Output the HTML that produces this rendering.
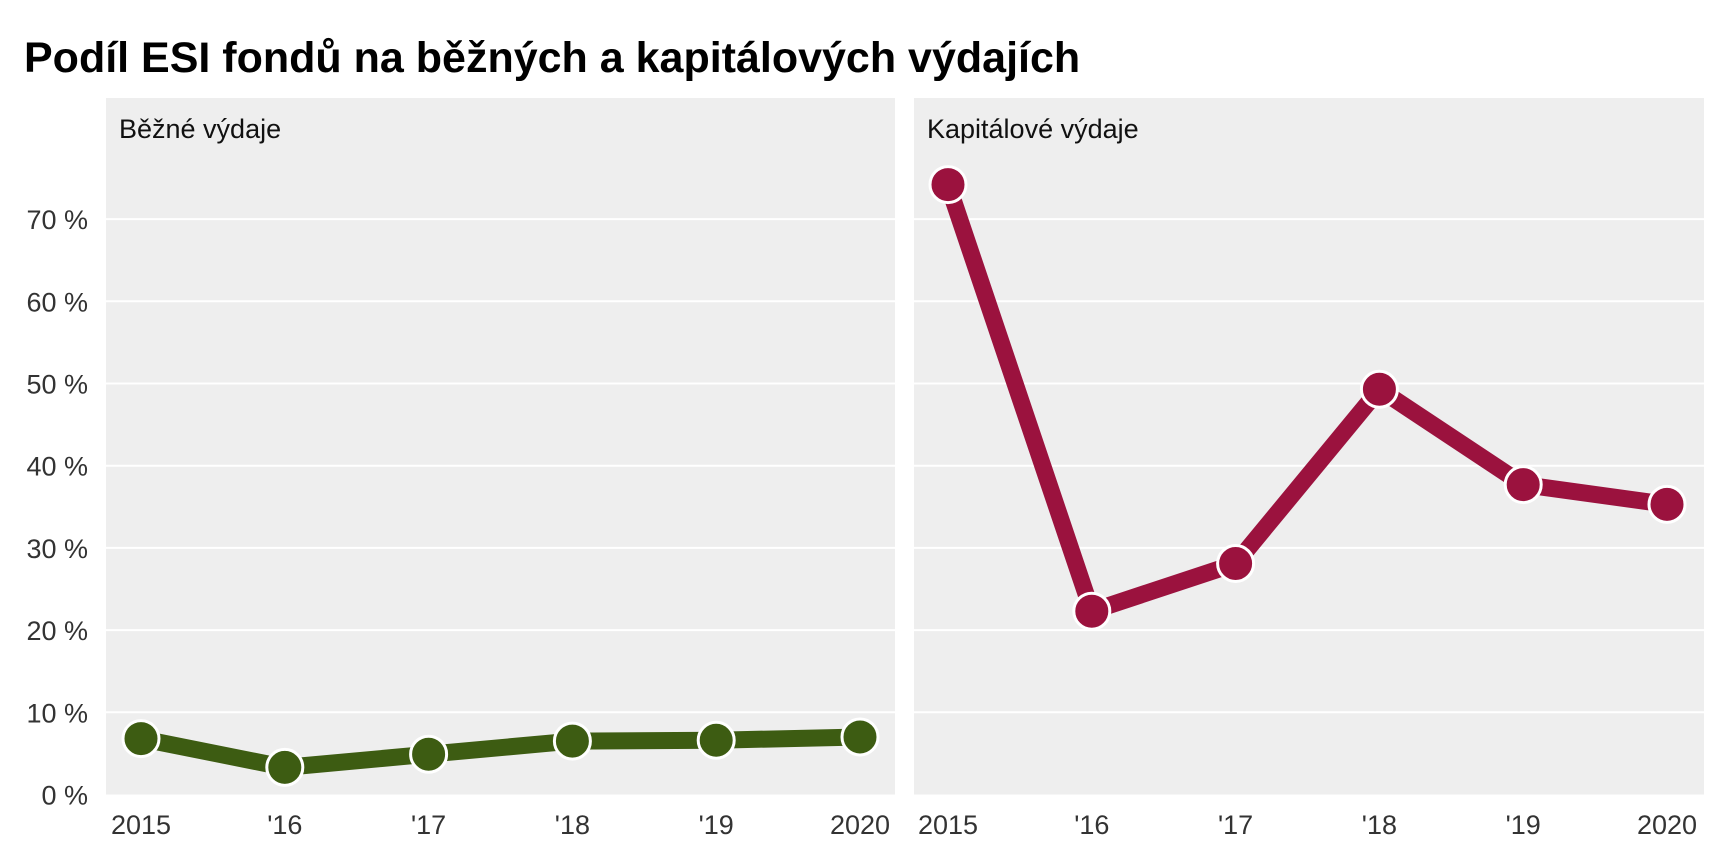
<!DOCTYPE html>
<html><head><meta charset="utf-8"><style>
body{margin:0;background:#fff;}
svg{display:block;font-family:"Liberation Sans",Arial,sans-serif;}
</style></head><body>
<svg id="chart" width="1728" height="864">
<text x="24" y="72" font-size="43" font-weight="bold" fill="#000">Podíl ESI fondů na běžných a kapitálových výdajích</text>
</svg>
<script>
const years=["2015","'16","'17","'18","'19","2020"];
const bezne=[6.8,3.3,4.9,6.5,6.6,7.0];
const kapitalove=[74.2,22.3,28.1,49.3,37.7,35.3];
const yTicks=[0,10,20,30,40,50,60,70];
const ns="http://www.w3.org/2000/svg";
const svg=document.getElementById('chart');
function mk(t,a,p){const e=document.createElementNS(ns,t);for(const k in a)e.setAttribute(k,a[k]);(p||svg).appendChild(e);return e;}
const y0=794.5,perUnit=8.22;
function y(v){return y0-v*perUnit;}
const panels=[{x0:106,x1:895,cx0:141,name:'Běžné výdaje',data:bezne,color:'#3d5c12',key:'bezne'},
{x0:914,x1:1704,cx0:948,name:'Kapitálové výdaje',data:kapitalove,color:'#9b123e',key:'kapitalove'}];
const step=143.8;
panels.forEach((p,pi)=>{
 const g=mk('g',{});
 
 
 const bg=mk('rect',{x:p.x0,y:98,width:p.x1-p.x0,height:y0-98,fill:'#eeeeee'},g);
 
 
 yTicks.forEach(t=>{
  if(t>0){const l=mk('line',{x1:p.x0,x2:p.x1,y1:y(t),y2:y(t),stroke:'#fff','stroke-width':2},g);
  
  }
  if(pi===0){const tx=mk('text',{x:88,y:y(t)+10,'font-size':27,fill:'#333','text-anchor':'end'});tx.textContent=t+' %';
  
  }
 });
 const st=mk('text',{x:p.x0+13,y:138,'font-size':27,fill:'#111'},g);st.textContent=p.name;
 
 
 const xs=i=>p.cx0+i*step;
 years.forEach((yr,i)=>{const tx=mk('text',{x:xs(i),y:834,'font-size':27,fill:'#333','text-anchor':'middle'},g);tx.textContent=yr;
  
  });
 const line=mk('polyline',{points:p.data.map((v,i)=>xs(i)+','+y(v)).join(' '),fill:'none',stroke:p.color,'stroke-width':17,'stroke-linejoin':'miter'},g);
 
 
 p.data.forEach((v,i)=>{const c=mk('circle',{cx:xs(i),cy:y(v),r:18,fill:p.color,stroke:'#fff','stroke-width':3},g);
  
  });
});
</script>
</body></html>
